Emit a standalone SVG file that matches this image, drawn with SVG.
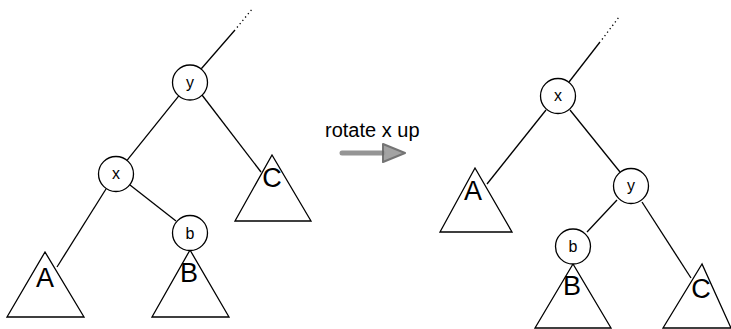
<svg xmlns="http://www.w3.org/2000/svg" width="731" height="329" viewBox="0 0 731 329">
<style>
.n{fill:#fff;stroke:#000;stroke-width:1.3}
.t{fill:#fff;stroke:#000;stroke-width:1.3}
.e{stroke:#000;stroke-width:1.3;fill:none}
.d{stroke:#000;stroke-width:1.3;fill:none;stroke-dasharray:1.3 3}
.s{font-family:"Liberation Sans",Arial,sans-serif;font-size:16px;text-anchor:middle;fill:#000}
.b{font-family:"Liberation Sans",Arial,sans-serif;font-size:27px;text-anchor:middle;fill:#000}
.l{font-family:"Liberation Sans",Arial,sans-serif;font-size:20px;fill:#000}
</style>
<rect width="731" height="329" fill="#fff"/>
<g id="connectors">
<line class="e" x1="201.3" y1="68.7" x2="235" y2="30"/>
<line class="d" x1="237" y1="27.5" x2="253" y2="8"/>
<line class="e" x1="179" y1="95.6" x2="127" y2="160.4"/>
<line class="e" x1="106" y1="189" x2="57" y2="267"/>
<line class="e" x1="130" y1="185" x2="176" y2="221"/>
<line class="e" x1="202" y1="95" x2="261" y2="172"/>
<line class="e" x1="569" y1="82" x2="600" y2="42"/>
<line class="d" x1="602" y1="39.5" x2="619" y2="17"/>
<line class="e" x1="546" y1="110" x2="487" y2="184"/>
<line class="e" x1="570" y1="110" x2="620" y2="172"/>
<line class="e" x1="617" y1="200" x2="587" y2="232"/>
<line class="e" x1="642" y1="202" x2="691" y2="278"/>
<g id="rotate-arrow">
<line x1="342" y1="153" x2="383" y2="153" stroke="#8a8a8a" stroke-width="5" stroke-linecap="round" opacity="0.9"/>
<polygon points="383,144 405,153 383,162" fill="#9a9a9a" stroke="#666" stroke-width="2" stroke-linejoin="round" opacity="0.9"/>
</g>
</g>
<text class="l" x="325" y="137">rotate x up</text>
<g id="L-A"><polygon class="t" points="45,252 7,317 84,317"/><text class="b" x="45" y="287">A</text></g>
<g id="L-B"><polygon class="t" points="190,250 152,317 229,317"/><text class="b" x="189" y="282">B</text></g>
<g id="L-C"><polygon class="t" points="272,155 235,221 311,221"/><text class="b" x="272" y="187">C</text></g>
<g id="L-y"><circle class="n" cx="190" cy="82.5" r="17.5"/><text class="s" x="190" y="87.5">y</text></g>
<g id="L-x"><circle class="n" cx="116" cy="174" r="17.5"/><text class="s" x="116" y="178.5">x</text></g>
<g id="L-b"><circle class="n" cx="190" cy="233" r="17.5"/><text class="s" x="190" y="238.5">b</text></g>
<g id="R-A"><polygon class="t" points="475,168 440,232 512,232"/><text class="b" x="473" y="200">A</text></g>
<g id="R-B"><polygon class="t" points="573,264 535,328 611,328"/><text class="b" x="572" y="295">B</text></g>
<g id="R-C"><polygon class="t" points="702,264 663,328 731,328"/><text class="b" x="701" y="298">C</text></g>
<g id="R-x"><circle class="n" cx="558" cy="96" r="17.5"/><text class="s" x="558" y="100.5">x</text></g>
<g id="R-y"><circle class="n" cx="631" cy="186" r="17.5"/><text class="s" x="631" y="191">y</text></g>
<g id="R-b"><circle class="n" cx="573" cy="246.5" r="17.5"/><text class="s" x="573" y="252">b</text></g>
</svg>
